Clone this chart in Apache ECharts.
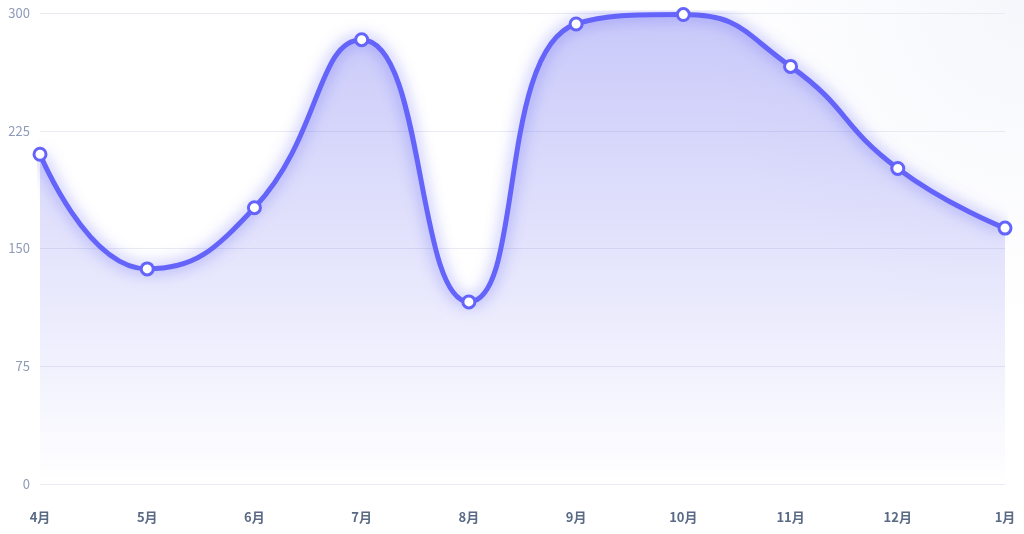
<!DOCTYPE html>
<html><head><meta charset="utf-8">
<script src="https://cdn.jsdelivr.net/npm/echarts@6/dist/echarts.min.js"></script>
<style>html,body{margin:0;padding:0;background:#fff}#c{width:1024px;height:534px}</style>
</head><body><div id="c"></div>
<script>
var categories = ['4月','5月','6月','7月','8月','9月','10月','11月','12月','1月'];
var values = [210, 137, 176, 283, 116, 293, 299, 266, 201, 163];
var yTicks = [0, 75, 150, 225, 300];

var chart = echarts.init(document.getElementById('c'));
chart.setOption({
  backgroundColor: new echarts.graphic.RadialGradient(1, 0, 0.6, [
    {offset: 0, color: '#f6f7fc'}, {offset: 1, color: '#ffffff'}
  ]),
  textStyle: {fontFamily: '"Noto Sans CJK SC", "Noto Sans", sans-serif'},
  grid: {left: 40, right: 19, top: 13, bottom: 50, containLabel: false},
  xAxis: {
    type: 'category', data: categories, boundaryGap: false,
    axisLine: {show: false}, axisTick: {show: false},
    axisLabel: {color: '#5a6a85', fontSize: 13, fontWeight: 'bold', margin: 27}
  },
  yAxis: {
    type: 'value', min: yTicks[0], max: yTicks[yTicks.length-1], interval: 75,
    axisLine: {show: false}, axisTick: {show: false},
    axisLabel: {color: '#8e9bb8', fontSize: 13, margin: 10},
    splitLine: {lineStyle: {color: '#e9ebf2', width: 1}}
  },
  series: [{
    type: 'line', data: values, smooth: true,
    symbol: 'circle', symbolSize: 12,
    itemStyle: {color: '#ffffff', borderColor: '#6464fa', borderWidth: 3},
    lineStyle: {color: '#6464fa', width: 5, shadowColor: 'rgba(100,100,250,0.75)', shadowBlur: 15, shadowOffsetY: 0},
    areaStyle: {color: new echarts.graphic.LinearGradient(0, 0, 0, 1, [
      {offset: 0, color: 'rgba(100,100,240,0.5)'},
      {offset: 1, color: 'rgba(100,100,240,0.0)'}
    ])}
  }]
});
</script></body></html>
